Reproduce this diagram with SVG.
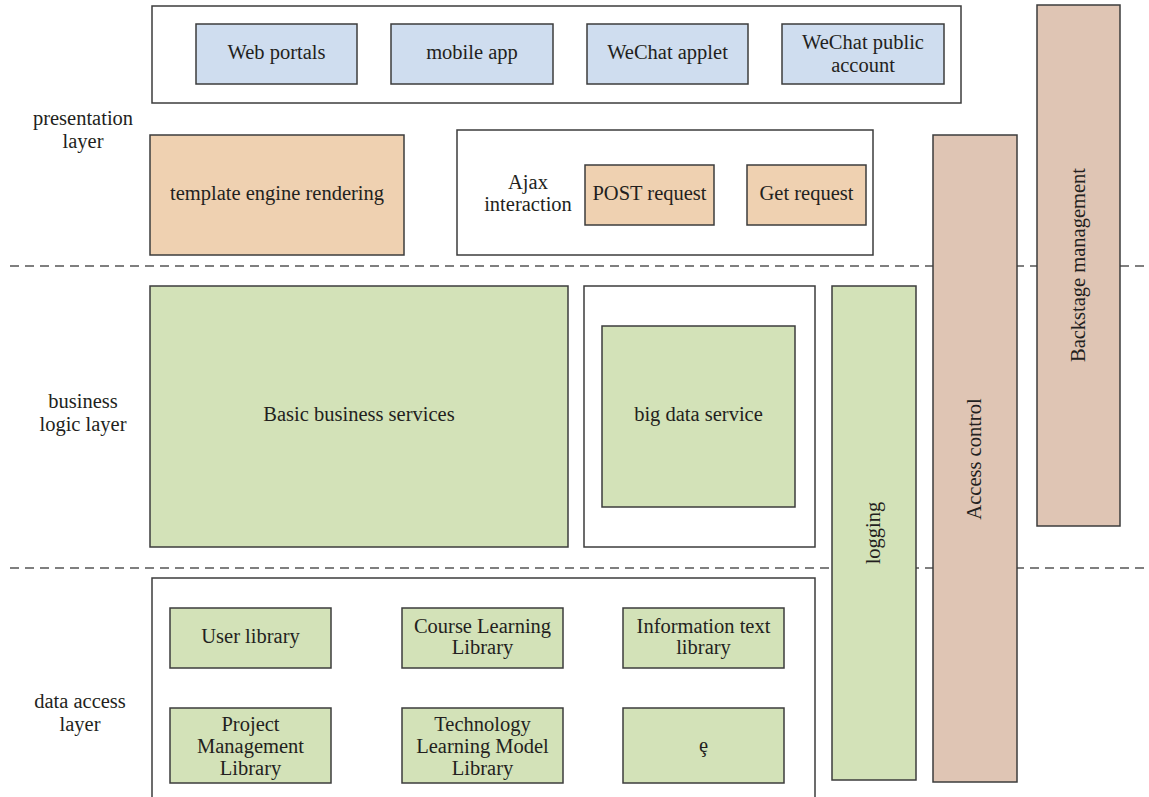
<svg xmlns="http://www.w3.org/2000/svg" width="1149" height="797" viewBox="0 0 1149 797">
<style>
text{font-family:"Liberation Serif","Times New Roman",serif;font-size:20.5px;fill:#231f20;text-anchor:middle}
.b{stroke:#3c3c3c;stroke-width:1.5}
.w{fill:#fff}
.blue{fill:#cfddef}
.org{fill:#efd1b1}
.grn{fill:#d3e2b8}
.brn{fill:#dfc5b4}
.dash{stroke:#555;stroke-width:1.5;stroke-dasharray:9 6;fill:none}
</style>
<rect width="1149" height="797" fill="#fff"/>
<g id="connectors">
<line class="dash" x1="10" y1="266" x2="1149" y2="266"/>
<line class="dash" x1="10" y1="568" x2="1149" y2="568"/>
</g>
<g id="labels">
<text x="83" y="125">presentation</text>
<text x="83" y="148">layer</text>
<text x="83" y="408">business</text>
<text x="83" y="431">logic layer</text>
<text x="80" y="708">data access</text>
<text x="80" y="731">layer</text>
</g>
<g id="presentation"><rect class="b w" x="152" y="6" width="809" height="97"/></g>
<g id="web"><rect class="b blue" x="196" y="24" width="161" height="60"/><text x="276.5" y="59">Web portals</text></g>
<g id="mobile"><rect class="b blue" x="391" y="24" width="162" height="60"/><text x="472" y="59">mobile app</text></g>
<g id="applet"><rect class="b blue" x="587" y="24" width="161" height="60"/><text x="667.5" y="59">WeChat applet</text></g>
<g id="public"><rect class="b blue" x="782" y="24" width="162" height="60"/><text x="863" y="49">WeChat public</text><text x="863" y="72">account</text></g>
<g id="template"><rect class="b org" x="150" y="135" width="254" height="120"/><text x="277" y="200">template engine rendering</text></g>
<g id="ajax"><rect class="b w" x="457" y="130" width="416" height="125"/><text x="528" y="189">Ajax</text><text x="528" y="211">interaction</text></g>
<g id="post"><rect class="b org" x="585" y="165" width="129" height="60"/><text x="649.5" y="200">POST request</text></g>
<g id="get"><rect class="b org" x="747" y="165" width="119" height="60"/><text x="806.5" y="200">Get request</text></g>
<g id="basic"><rect class="b grn" x="150" y="286" width="418" height="261"/><text x="359" y="421">Basic business services</text></g>
<g id="bigdata"><rect class="b w" x="584" y="286" width="231" height="261"/><rect class="b grn" x="602" y="326" width="193" height="181"/><text x="698.5" y="421">big data service</text></g>
<g id="logging"><rect class="b grn" x="832" y="286" width="84" height="494"/><text transform="translate(880 533) rotate(-90)">logging</text></g>
<g id="access"><rect class="b brn" x="933" y="135" width="84" height="647"/><text transform="translate(981 459) rotate(-90)">Access control</text></g>
<g id="backstage"><rect class="b brn" x="1037" y="5" width="83" height="521"/><text transform="translate(1085 265) rotate(-90)">Backstage management</text></g>
<g id="dataaccess"><path class="b" fill="#fff" d="M152 800V578H815V800"/></g>
<g id="user"><rect class="b grn" x="170" y="608" width="161" height="60"/><text x="250.5" y="643">User library</text></g>
<g id="course"><rect class="b grn" x="402" y="608" width="161" height="60"/><text x="482.5" y="633">Course Learning</text><text x="482.5" y="654">Library</text></g>
<g id="info"><rect class="b grn" x="623" y="608" width="161" height="60"/><text x="703.5" y="633">Information text</text><text x="703.5" y="654">library</text></g>
<g id="project"><rect class="b grn" x="170" y="708" width="161" height="75"/><text x="250.5" y="731">Project</text><text x="250.5" y="753">Management</text><text x="250.5" y="775">Library</text></g>
<g id="tech"><rect class="b grn" x="402" y="708" width="161" height="75"/><text x="482.5" y="731">Technology</text><text x="482.5" y="753">Learning Model</text><text x="482.5" y="775">Library</text></g>
<g id="other"><rect class="b grn" x="623" y="708" width="161" height="75"/><text x="703.5" y="752">ȩ</text></g>
</svg>
